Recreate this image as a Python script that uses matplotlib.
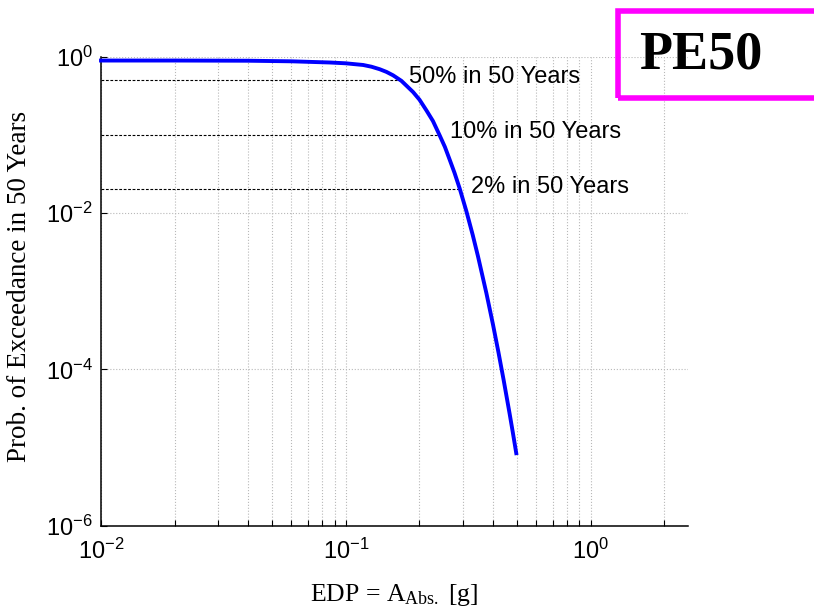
import numpy as np
import matplotlib
matplotlib.use("Agg")
import matplotlib.pyplot as plt
from matplotlib.patches import Rectangle
from matplotlib.ticker import FixedLocator, LogLocator, NullLocator, NullFormatter, FuncFormatter

plt.rcParams['mathtext.fontset'] = 'custom'
plt.rcParams['mathtext.rm'] = 'Liberation Serif'
plt.rcParams['mathtext.it'] = 'Liberation Serif:italic'
plt.rcParams['mathtext.bf'] = 'Liberation Serif:bold'
plt.rcParams['mathtext.sf'] = 'Liberation Sans'

# Hazard curve: probability of exceedance in 50 years vs. absolute acceleration
edp = [0.01, 0.02, 0.04, 0.06, 0.086, 0.0996, 0.1177, 0.1273, 0.1376,
       0.1466, 0.156, 0.1688, 0.1883, 0.20, 0.2135, 0.227, 0.2418, 0.254,
       0.2658, 0.278, 0.2919, 0.311, 0.33, 0.3467, 0.3753, 0.3993, 0.42,
       0.4415, 0.467, 0.48, 0.497]
pe50 = [0.89, 0.89, 0.885, 0.87, 0.84, 0.821, 0.781, 0.742, 0.689,
        0.637, 0.576, 0.489, 0.352, 0.281, 0.205, 0.150, 0.0983, 0.070,
        0.0479, 0.0327, 0.0206, 0.0105, 5.24e-3, 2.80e-3, 9.44e-4, 3.75e-4, 1.68e-4,
        7.29e-5, 2.71e-5, 1.64e-5, 8.5e-6]

# Design hazard levels and the EDP where the curve crosses them
hazard_levels = [0.5, 0.1, 0.02]
level_edp = [0.163, 0.241, 0.292]
level_labels = ["50% in 50 Years", "10% in 50 Years", "2% in 50 Years"]

x_ticks = [1e-2, 1e-1, 1e0]
y_ticks = [1e-6, 1e-4, 1e-2, 1e0]

fig = plt.figure(figsize=(8.14, 6.13), dpi=100)
ax = fig.add_axes([0.1241, 0.1421, 0.7211, 0.7656])
ax.set_xscale('log')
ax.set_yscale('log')
ax.set_xlim(0.01, 2.5)
ax.set_ylim(1e-6, 1.0)

ax.xaxis.set_major_locator(FixedLocator(x_ticks))
ax.xaxis.set_minor_locator(LogLocator(base=10, subs=np.arange(2, 10)))
ax.xaxis.set_minor_formatter(NullFormatter())
ax.yaxis.set_major_locator(FixedLocator(y_ticks))
ax.yaxis.set_minor_locator(NullLocator())

pow_fmt = FuncFormatter(lambda v, pos: r'$\mathsf{10^{%d}}$' % int(round(np.log10(v))))
ax.xaxis.set_major_formatter(pow_fmt)
ax.yaxis.set_major_formatter(pow_fmt)

ax.grid(True, which='major', axis='both', linestyle=':', color='#b8b8b8', linewidth=0.8)
ax.grid(True, which='minor', axis='x', linestyle=':', color='#b8b8b8', linewidth=0.8)
ax.set_axisbelow(True)

for side in ('top', 'right'):
    ax.spines[side].set_visible(False)
for side in ('left', 'bottom'):
    ax.spines[side].set_linewidth(1.1)

ax.tick_params(which='both', direction='in', top=False, right=False,
               length=4, width=0.8, labelsize=17)
ax.tick_params(axis='x', which='both', pad=9)
ax.tick_params(axis='y', which='both', pad=6)

# Hazard level guide lines and labels
for lvl, xe, lab in zip(hazard_levels, level_edp, level_labels):
    ax.plot([0.01, xe], [lvl, lvl], linestyle=(0, (2.5, 1.5)), color='black',
            linewidth=0.8, zorder=2)
    ax.annotate(lab, xy=(xe, lvl), xytext=(8, 2), textcoords='offset points',
                ha='left', va='center', fontsize=17, family='Liberation Sans',
                zorder=4)

ax.plot(edp, pe50, color='#0000ff', linewidth=2.8, zorder=3, clip_on=False,
        solid_joinstyle='round')

ax.set_xlabel(r'EDP = A$_{\mathrm{Abs.}}$ [g]', family='Liberation Serif', fontsize=18.5)
ax.xaxis.set_label_coords(0.5, -0.12)
ax.set_ylabel('Prob. of Exceedance in 50 Years', family='Liberation Serif', fontsize=19.5)
ax.yaxis.set_label_coords(-0.117, 0.51)

# Title box
fig.patches.append(Rectangle((0.7596, 0.840), 0.30, 0.142, transform=fig.transFigure,
                             fill=False, edgecolor='#ff00ff', linewidth=4, clip_on=False))
fig.text(0.861, 0.909, 'PE50', family='Liberation Serif', fontweight='bold',
         fontsize=39, ha='center', va='center')

fig.savefig('out.png', dpi=100)
